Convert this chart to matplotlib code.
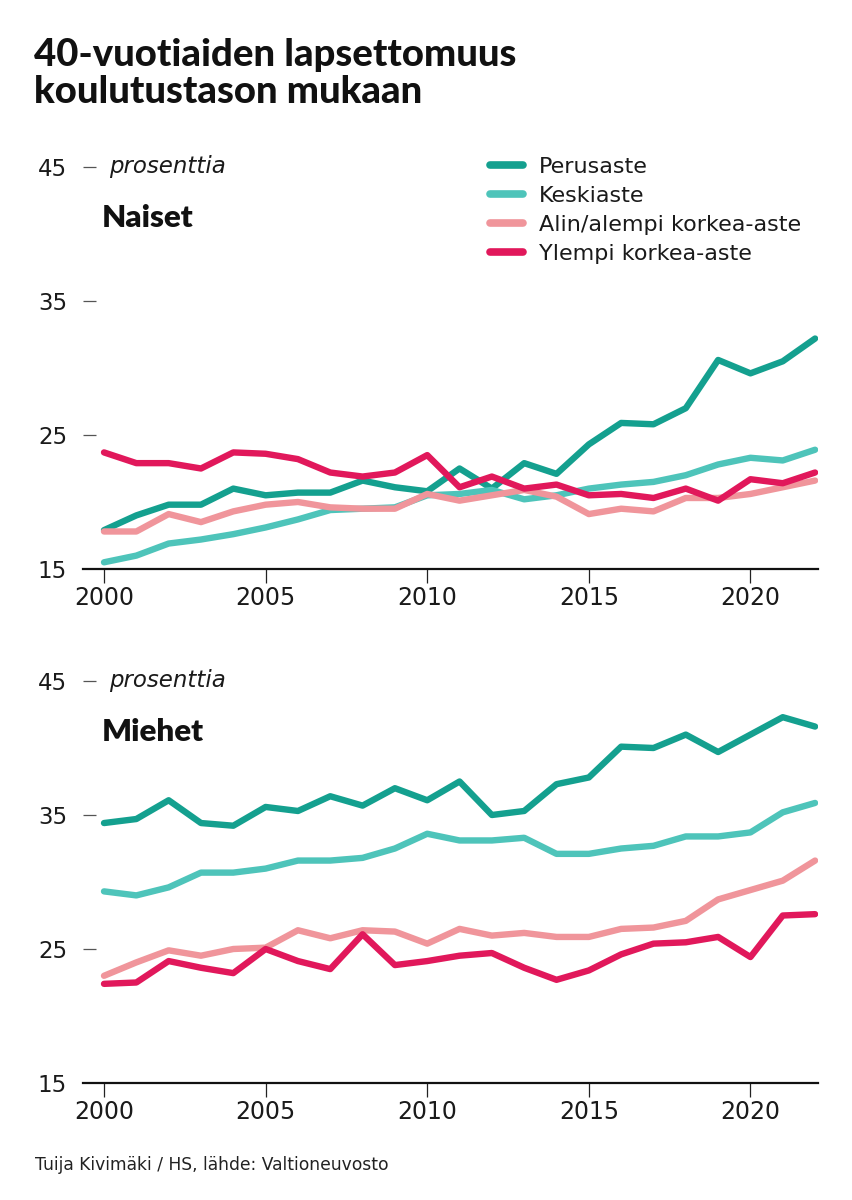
import matplotlib
matplotlib.use('Agg')
import matplotlib.pyplot as plt
import numpy as np

# data (percent)
years = np.arange(2000, 2023)
series = ["Perusaste", "Keskiaste", "Alin/alempi korkea-aste", "Ylempi korkea-aste"]
colors = ["#14a08f", "#4ec4ba", "#f0959b", "#e1185b"]

naiset_perus = [17.9, 19.0, 19.8, 19.8, 21.0, 20.5, 20.7, 20.7, 21.6, 21.1, 20.8,
                22.5, 21.0, 22.9, 22.1, 24.3, 25.9, 25.8, 27.0, 30.6, 29.6, 30.5, 32.2]
naiset_keski = [15.5, 16.0, 16.9, 17.2, 17.6, 18.1, 18.7, 19.4, 19.5, 19.6, 20.5,
                20.6, 20.9, 20.2, 20.5, 21.0, 21.3, 21.5, 22.0, 22.8, 23.3, 23.1, 23.9]
naiset_alin = [17.8, 17.8, 19.1, 18.5, 19.3, 19.8, 20.0, 19.6, 19.5, 19.5, 20.6,
               20.1, 20.5, 20.9, 20.4, 19.1, 19.5, 19.3, 20.3, 20.3, 20.6, 21.1, 21.6]
naiset_ylempi = [23.7, 22.9, 22.9, 22.5, 23.7, 23.6, 23.2, 22.2, 21.9, 22.2, 23.5,
                 21.1, 21.9, 21.0, 21.3, 20.5, 20.6, 20.3, 21.0, 20.1, 21.7, 21.4, 22.2]

miehet_perus = [34.4, 34.7, 36.1, 34.4, 34.2, 35.6, 35.3, 36.4, 35.7, 37.0, 36.1,
                37.5, 35.0, 35.3, 37.3, 37.8, 40.1, 40.0, 41.0, 39.7, 41.0, 42.3, 41.6]
miehet_keski = [29.3, 29.0, 29.6, 30.7, 30.7, 31.0, 31.6, 31.6, 31.8, 32.5, 33.6,
                33.1, 33.1, 33.3, 32.1, 32.1, 32.5, 32.7, 33.4, 33.4, 33.7, 35.2, 35.9]
miehet_alin = [23.0, 24.0, 24.9, 24.5, 25.0, 25.1, 26.4, 25.8, 26.4, 26.3, 25.4,
               26.5, 26.0, 26.2, 25.9, 25.9, 26.5, 26.6, 27.1, 28.7, 29.4, 30.1, 31.6]
miehet_ylempi = [22.4, 22.5, 24.1, 23.6, 23.2, 25.0, 24.1, 23.5, 26.1, 23.8, 24.1,
                 24.5, 24.7, 23.6, 22.7, 23.4, 24.6, 25.4, 25.5, 25.9, 24.4, 27.5, 27.6]

yticks = [15, 25, 35, 45]
xticks = [2000, 2005, 2010, 2015, 2020]

W, H = 852, 1200
fig = plt.figure(figsize=(W / 100, H / 100), dpi=100)

def px(x, y):
    return x / W, 1 - y / H

TXT = "#1a1a1a"
tick_font = "DejaVu Sans"

def make_axes(top_px, bottom_px, data, label, with_legend):
    ax = fig.add_axes([83 / W, 1 - bottom_px / H, (818 - 83) / W, (bottom_px - top_px) / H])
    for vals, c, name in zip(data, colors, series):
        ax.plot(years, vals, color=c, lw=4.6, solid_capstyle='round',
                solid_joinstyle='round', label=name)
    ax.set_xlim(1999.35, 2022.09)
    ax.set_ylim(15, 45)
    ax.set_yticks(yticks)
    ax.set_xticks(xticks)
    for s in ["top", "right", "left"]:
        ax.spines[s].set_visible(False)
    ax.spines["bottom"].set_linewidth(1.6)
    ax.spines["bottom"].set_color("#111111")
    ax.tick_params(axis='y', direction='in', length=9.5, width=0.9, color="#555555",
                   pad=11.5, labelsize=16.5, labelcolor=TXT)
    ax.tick_params(axis='x', direction='out', length=10, width=0.9, color="#222222",
                   pad=2.5, labelsize=17, labelcolor=TXT)
    for t in ax.get_xticklabels() + ax.get_yticklabels():
        t.set_fontfamily(tick_font)
    ax.get_yticklines()[0].set_visible(False)
    ax.patch.set_alpha(0)
    ax.text(0.0354, 45, "prosenttia", transform=ax.get_yaxis_transform(),
            fontsize=16.5, style='italic', color=TXT, va='center', family=tick_font)
    fig.text(*px(102, top_px + 60), label, fontsize=22.5, fontweight='heavy',
             family='Lato', color="#111111", va='baseline')
    if with_legend:
        leg = ax.legend(loc='upper left', bbox_to_anchor=px(490, 157),
                        bbox_transform=fig.transFigure, frameon=False,
                        borderpad=0, borderaxespad=0, handlelength=1.5,
                        handletextpad=0.7, labelspacing=0.4,
                        prop={'family': tick_font, 'size': 16})
        for ln in leg.get_lines():
            ln.set_linewidth(5.5)
            ln.set_solid_capstyle('round')
        for t in leg.get_texts():
            t.set_color(TXT)
    return ax

make_axes(167, 569, [naiset_perus, naiset_keski, naiset_alin, naiset_ylempi], "Naiset", True)
make_axes(681, 1083, [miehet_perus, miehet_keski, miehet_alin, miehet_ylempi], "Miehet", False)

fig.text(*px(34, 66), "40-vuotiaiden lapsettomuus", fontsize=27.5, fontweight=900,
         family='Lato', color="#111111", va='baseline')
fig.text(*px(34, 103), "koulutustason mukaan", fontsize=27.5, fontweight=900,
         family='Lato', color="#111111", va='baseline')
fig.text(*px(35, 1170), "Tuija Kivimäki / HS, lähde: Valtioneuvosto", fontsize=12.3,
         family=tick_font, color="#222222", va='baseline')

fig.savefig("out.png", dpi=100, facecolor='white')
